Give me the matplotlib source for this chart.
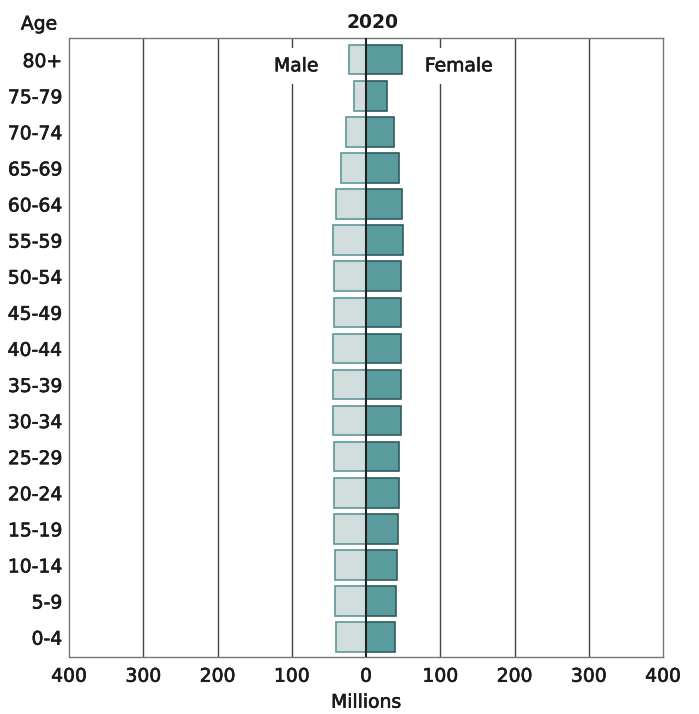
import matplotlib
matplotlib.use("Agg")
import matplotlib.pyplot as plt
import matplotlib.patheffects as pe
import numpy as np

plt.rcParams['font.family'] = ['DejaVu Sans']

ages = ["0-4", "5-9", "10-14", "15-19", "20-24", "25-29", "30-34", "35-39",
        "40-44", "45-49", "50-54", "55-59", "60-64", "65-69", "70-74", "75-79", "80+"]
male = [40, 42, 42, 43, 43, 43, 44, 44, 44, 43, 43, 44, 40, 34, 27, 16, 23]
female = [39, 40, 42, 43, 44, 44, 47, 47, 47, 47, 47, 50, 48, 44, 38, 28, 48]
xticks = [-400, -300, -200, -100, 0, 100, 200, 300, 400]
xticklabels = ["400", "300", "200", "100", "0", "100", "200", "300", "400"]

FS = 13.5
TXT = '#1a1a1a'
heavy = [pe.withStroke(linewidth=0.45, foreground=TXT)]

fig = plt.figure(figsize=(6.99, 7.14), dpi=100)
ax = fig.add_axes([69/699, 1-657/714, (663-69)/699, (657-38)/714])

y = np.arange(len(ages))
for gx in [-300, -200, -100, 100, 200, 300]:
    ax.axvline(gx, color='#444444', lw=1.0, zorder=1)

ax.barh(y, [-m for m in male], height=0.82, color='#d2dddd', edgecolor='#5d9799',
        lw=1.2, zorder=2)
ax.barh(y, female, height=0.82, color='#5a9b9d', edgecolor='#2f5c5e',
        lw=1.2, zorder=2)
ax.axvline(0, color='#222222', lw=1.5, zorder=3)

ax.set_xlim(-400, 400)
ax.set_ylim(-0.55, 16.6)
ax.set_yticks(y)
ax.set_yticklabels(ages, fontsize=FS)
ax.set_xticks(xticks)
ax.set_xticklabels(xticklabels, fontsize=FS)
ax.tick_params(length=0, pad=5, colors=TXT)
ax.tick_params(axis='x', pad=7)
for lab in ax.get_xticklabels() + ax.get_yticklabels():
    lab.set_path_effects(heavy)
for s in ax.spines.values():
    s.set_color('#6f7a7a')
    s.set_linewidth(1.0)
xl = ax.set_xlabel("Millions", fontsize=FS, labelpad=5, color=TXT)
xl.set_path_effects(heavy)

bbox = dict(facecolor='white', edgecolor='none', boxstyle='square,pad=0.45')
ax.text(-94, 15.83, "Male", fontsize=FS, color=TXT, ha='center', va='center',
        bbox=bbox, zorder=4, path_effects=heavy)
ax.text(125, 15.83, "Female", fontsize=FS, color=TXT, ha='center', va='center',
        bbox=bbox, zorder=4, path_effects=heavy)

fig.text(372/699, 1-22/714, "2020", fontsize=FS, fontweight='bold', color=TXT,
         ha='center', va='center')
fig.text(39/699, 1-24/714, "Age", fontsize=FS, color=TXT, ha='center', va='center',
         path_effects=heavy)

fig.savefig("out.png", dpi=100, facecolor='white')
